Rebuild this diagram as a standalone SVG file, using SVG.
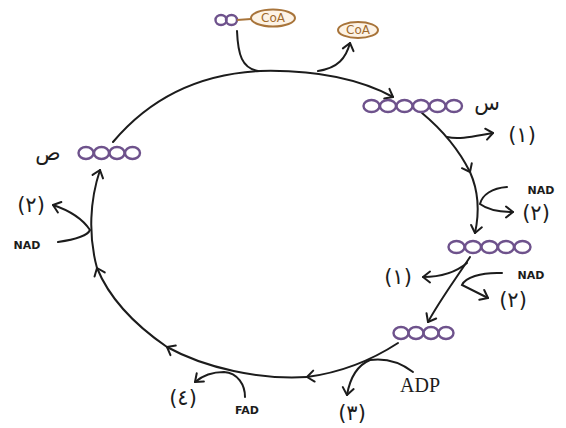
<svg xmlns="http://www.w3.org/2000/svg" width="566" height="428" viewBox="0 0 566 428">
<style>
.ln{fill:none;stroke:#1c1c1c;stroke-width:2;stroke-linecap:round;}
.ar{marker-end:url(#arr);}
.ring{fill:none;stroke:#6e528c;stroke-width:2.4;}
.coa{fill:#fdf3e6;stroke:#a8743a;stroke-width:2;}
.coat{font-family:"DejaVu Sans",sans-serif;font-size:12px;fill:#a06a2c;text-anchor:middle;}
.num{font-family:"DejaVu Sans",sans-serif;font-size:21px;fill:#1c1c1c;text-anchor:middle;}
.ar-l{font-family:"DejaVu Sans",sans-serif;font-size:21px;fill:#1c1c1c;text-anchor:middle;}
.sm{font-family:"DejaVu Sans",sans-serif;font-size:11px;font-weight:bold;fill:#1c1c1c;text-anchor:middle;}
.serif{font-family:"Liberation Serif",serif;font-size:20px;fill:#1c1c1c;}
</style>
<defs>
<marker id="arr" markerUnits="userSpaceOnUse" viewBox="-9 -7 11 14" refX="0" refY="0" markerWidth="11" markerHeight="14" orient="auto" overflow="visible">
<path d="M-7,-5.5 L0,0 L-7,5.5" fill="none" stroke="#1c1c1c" stroke-width="2" stroke-linecap="round" stroke-linejoin="round"/>
</marker>
</defs>
<g id="connectors">
<path class="ln ar" d="M113,142 C150,98 200,74 260,71 C300,70 350,74 393,97"/>
<path class="ln" d="M237,31 C238,55 242,68 258,71"/>
<path class="ln ar" d="M318,71 C338,68 346,58 350,43"/>
<path class="ln ar" d="M422,113 C440,128 458,148 470,172"/>
<path class="ln ar" d="M470,172 C478,190 480,210 475,233"/>
<path class="ln ar" d="M447,137 C460,140 475,136 493,133"/>
<path class="ln ar" d="M507,187 C492,188 482,195 480,204 C488,210 500,212 513,212"/>
<path class="ln ar" d="M470,257 C455,280 440,300 428,322"/>
<path class="ln ar" d="M467,263 C455,273 440,277 423,277"/>
<path class="ln ar" d="M502,273 C480,272 465,278 462,285 C472,290 480,294 488,298"/>
<path class="ln ar" d="M398,343 C375,358 345,372 307,377"/>
<path class="ln ar" d="M307,377 C260,380 205,368 167,347"/>
<path class="ln ar" d="M167,347 C135,325 110,300 97,268"/>
<path class="ln ar" d="M97,268 C88,235 90,200 100,170"/>
<path class="ln ar" d="M245,397 C245,385 238,373 224,372 C212,372 202,376 195,382"/>
<path class="ln ar" d="M413,372 C400,362 385,358 370,360 C358,365 350,378 347,395"/>
<path class="ln ar" d="M58,242 C72,240 87,237 90,230 C82,218 68,210 53,205"/>
</g>
<g id="acetylcoa">
<ellipse class="ring" cx="221" cy="20" rx="5.5" ry="5"/>
<ellipse class="ring" cx="231.5" cy="20" rx="5.5" ry="5"/>
<line x1="237" y1="20" x2="251" y2="19" stroke="#a8743a" stroke-width="2"/>
<ellipse class="coa" cx="273" cy="18" rx="22" ry="8.5"/>
<text class="coat" x="273" y="22">CoA</text>
</g>
<g id="coa-out">
<ellipse class="coa" cx="358" cy="30" rx="20" ry="8"/>
<text class="coat" x="358" y="34">CoA</text>
</g>
<g id="c6">
<ellipse class="ring" cx="371.5" cy="106" rx="8" ry="6"/>
<ellipse class="ring" cx="388" cy="106" rx="8" ry="6"/>
<ellipse class="ring" cx="404.5" cy="106" rx="8" ry="6"/>
<ellipse class="ring" cx="421" cy="106" rx="8" ry="6"/>
<ellipse class="ring" cx="437.5" cy="106" rx="8" ry="6"/>
<ellipse class="ring" cx="454" cy="106" rx="8" ry="6"/>
<text class="ar-l" x="487" y="110">س</text>
</g>
<g id="c5">
<ellipse class="ring" cx="456.5" cy="247" rx="8" ry="6"/>
<ellipse class="ring" cx="473" cy="247" rx="8" ry="6"/>
<ellipse class="ring" cx="489.5" cy="247" rx="8" ry="6"/>
<ellipse class="ring" cx="506" cy="247" rx="8" ry="6"/>
<ellipse class="ring" cx="522.5" cy="247" rx="8" ry="6"/>
</g>
<g id="c4b">
<ellipse class="ring" cx="401" cy="333" rx="7.5" ry="6"/>
<ellipse class="ring" cx="416" cy="333" rx="7.5" ry="6"/>
<ellipse class="ring" cx="431" cy="333" rx="7.5" ry="6"/>
<ellipse class="ring" cx="446" cy="333" rx="7.5" ry="6"/>
</g>
<g id="c4s">
<ellipse class="ring" cx="86" cy="153" rx="7.5" ry="6"/>
<ellipse class="ring" cx="101.5" cy="153" rx="7.5" ry="6"/>
<ellipse class="ring" cx="117" cy="153" rx="7.5" ry="6"/>
<ellipse class="ring" cx="132.5" cy="153" rx="7.5" ry="6"/>
<text class="ar-l" x="48" y="160">ص</text>
</g>
<g id="labels">
<text class="num" x="522" y="142">(١)</text>
<text class="sm" x="541" y="194">NAD</text>
<text class="num" x="536" y="220">(٢)</text>
<text class="num" x="398" y="284">(١)</text>
<text class="sm" x="531" y="279">NAD</text>
<text class="num" x="513" y="307">(٢)</text>
<text class="serif" x="400" y="392">ADP</text>
<text class="num" x="352" y="420">(٣)</text>
<text class="sm" x="247" y="414">FAD</text>
<text class="num" x="183" y="405">(٤)</text>
<text class="sm" x="27" y="249">NAD</text>
<text class="num" x="31" y="212">(٢)</text>
</g>
</svg>
